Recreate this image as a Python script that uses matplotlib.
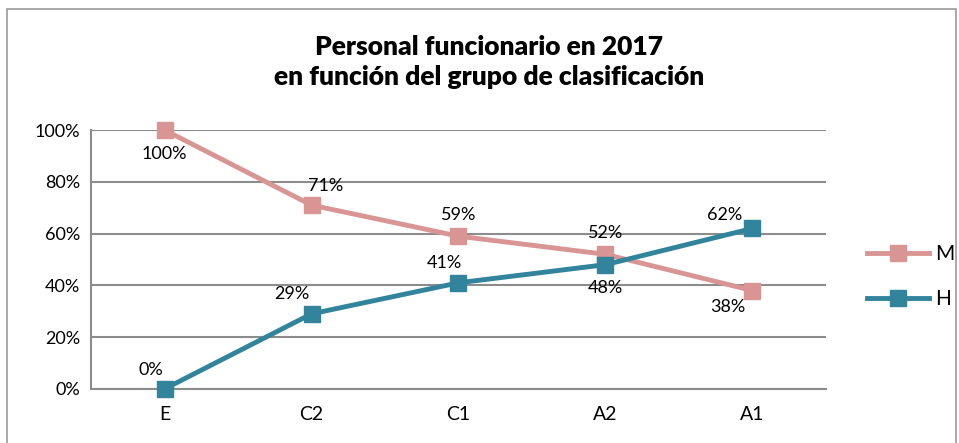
import matplotlib.pyplot as plt
from matplotlib.patches import Rectangle

# Data
categories = ['E', 'C2', 'C1', 'A2', 'A1']
mujeres = [100, 71, 59, 52, 38]
hombres = [0, 29, 41, 48, 62]
y_ticks = [0, 20, 40, 60, 80, 100]

plt.rcParams['font.family'] = ['Lato', 'DejaVu Sans']

fig = plt.figure(figsize=(9.59, 4.43), dpi=100)
ax = fig.add_axes([0.0949, 0.122, 0.7664, 0.5845])

# outer chart border
fig.patches.append(Rectangle((0.007, -0.01), 0.99, 0.99, transform=fig.transFigure,
                             fill=False, edgecolor='#9a9a9a', linewidth=1.2))

pink = '#D99594'
teal = '#31849B'
x = range(len(categories))

ax.plot(x, mujeres, color=pink, lw=3.5, marker='s', ms=11, label='M', zorder=3, clip_on=False)
ax.plot(x, hombres, color=teal, lw=3.5, marker='s', ms=11, label='H', zorder=4, clip_on=False)

# data labels (offsets in points)
m_off = [(0, -17), (10, 14), (0, 15), (0, 15), (-18, -12)]
h_off = [(-10, 14), (-14, 14), (-10, 14), (0, -17), (-20, 10)]
for i, v in enumerate(mujeres):
    ax.annotate(f'{v}%', (i, v), xytext=m_off[i], textcoords='offset points',
                ha='center', va='center', fontsize=13)
for i, v in enumerate(hombres):
    ax.annotate(f'{v}%', (i, v), xytext=h_off[i], textcoords='offset points',
                ha='center', va='center', fontsize=13)

ax.set_xlim(-0.5, 4.5)
ax.set_ylim(0, 100)
ax.set_xticks(list(x))
ax.set_xticklabels(categories, fontsize=14)
ax.set_yticks(y_ticks)
ax.set_yticklabels([f'{t}%' for t in y_ticks], fontsize=13)
ax.tick_params(length=0, pad=8)
ax.tick_params(axis='x', pad=12)

ax.grid(axis='y', color='#8c8c8c', lw=1.5)
ax.set_axisbelow(True)
for s in ['top', 'right']:
    ax.spines[s].set_visible(False)
for s in ['left', 'bottom']:
    ax.spines[s].set_color('#8c8c8c')
    ax.spines[s].set_linewidth(1.5)

fig.text(0.51, 0.86, 'Personal funcionario en 2017\nen función del grupo de clasificación',
         ha='center', va='center', fontsize=19, fontweight='heavy', linespacing=1.3)

ax.legend(loc='center left', bbox_to_anchor=(1.03, 0.435), frameon=False,
          fontsize=15, handlelength=3.0, labelspacing=1.2, handletextpad=0.3)

fig.savefig('out.png', dpi=100)
